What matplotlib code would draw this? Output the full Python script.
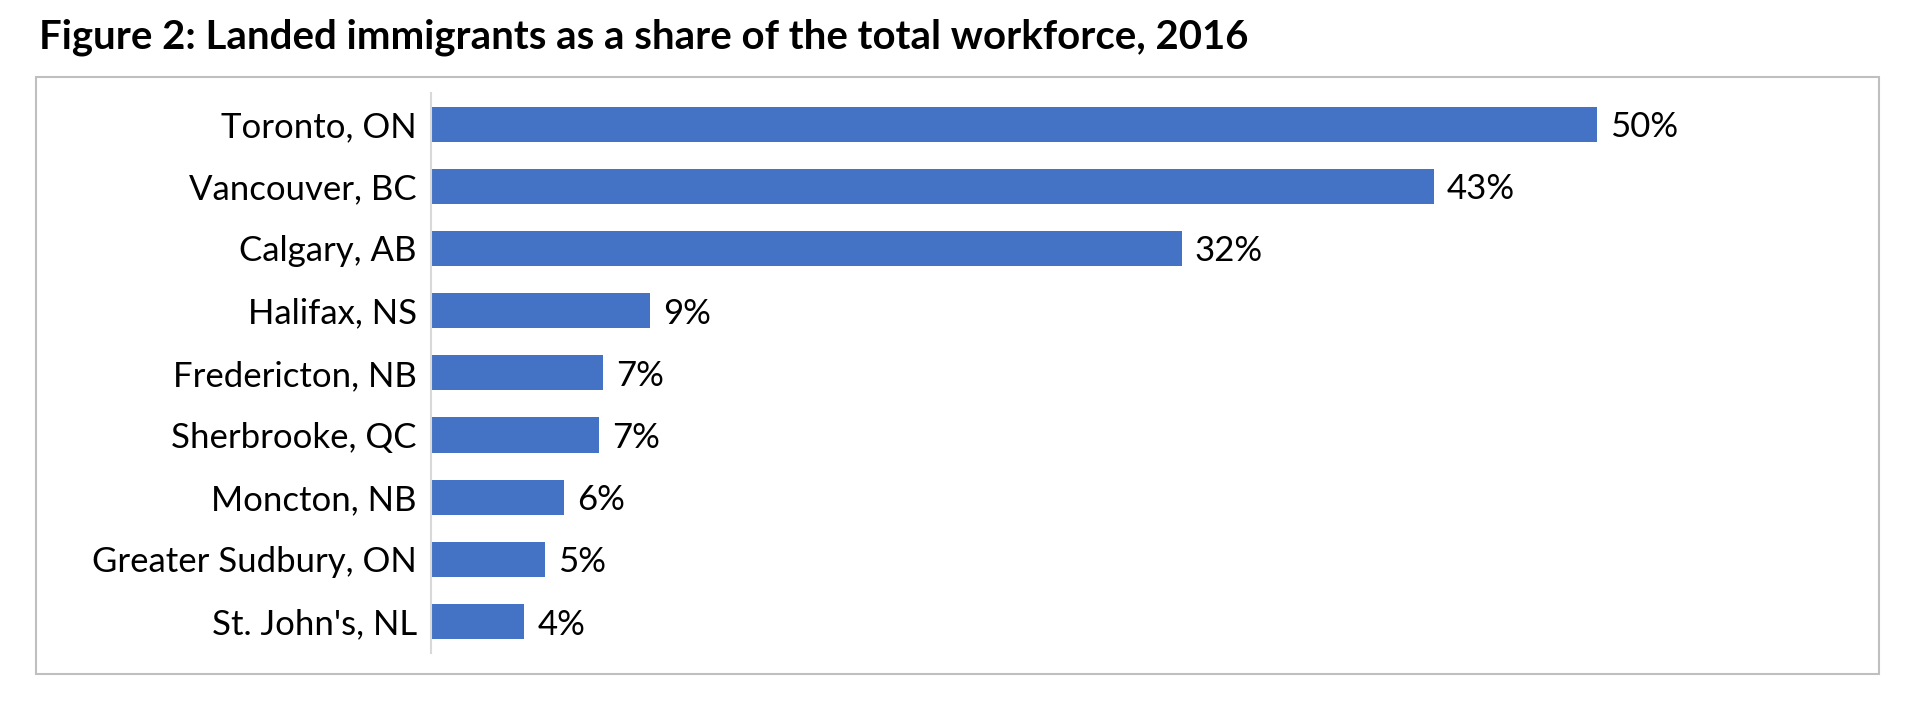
import matplotlib
matplotlib.use("Agg")
import matplotlib.pyplot as plt
from matplotlib.patches import Rectangle

# Data
cities = ["Toronto, ON", "Vancouver, BC", "Calgary, AB", "Halifax, NS",
          "Fredericton, NB", "Sherbrooke, QC", "Moncton, NB",
          "Greater Sudbury, ON", "St. John's, NL"]
share = [50.0, 43.0, 32.2, 9.4, 7.4, 7.2, 5.7, 4.9, 4.0]

title = "Figure 2: Landed immigrants as a share of the total workforce, 2016"

bar_color = "#4472C4"
W, H, DPI = 1912, 708, 100

plt.rcParams['font.family'] = ['Lato', 'DejaVu Sans']

fig = plt.figure(figsize=(W / DPI, H / DPI), dpi=DPI)
ax = fig.add_axes([430.7 / W, 1 - 652.7 / H, (1830 - 430.7) / W, (652.7 - 93) / H])

ypos = list(range(len(cities)))
ax.barh(ypos, share, height=0.565, color=bar_color, zorder=2)

for y, v in zip(ypos, share):
    ax.annotate(f"{v:.0f}%", xy=(v, y), xytext=(9.5, 0), textcoords="offset points",
                va="center_baseline", ha="left", fontsize=25, color="black")

ax.set_xlim(0, 60)
ax.set_ylim(len(cities) - 0.5, -0.5)
ax.set_yticks(ypos)
ax.set_yticklabels(cities, fontsize=25)
ax.tick_params(axis="y", length=0, pad=10)
ax.set_xticks([])

for side in ["top", "right", "bottom"]:
    ax.spines[side].set_visible(False)
ax.spines["left"].set_color("#D9D9D9")
ax.spines["left"].set_linewidth(1.5)

# outer chart border
fig.patches.append(Rectangle((36 / W, 1 - 674 / H), (1879 - 36) / W, (674 - 77) / H,
                             transform=fig.transFigure, fill=False,
                             edgecolor="#BFBFBF", linewidth=1.5))

fig.text(39 / W, 1 - 48 / H, title, fontsize=28.9, fontweight="bold",
         ha="left", va="baseline")

fig.savefig("out.png", dpi=DPI)
